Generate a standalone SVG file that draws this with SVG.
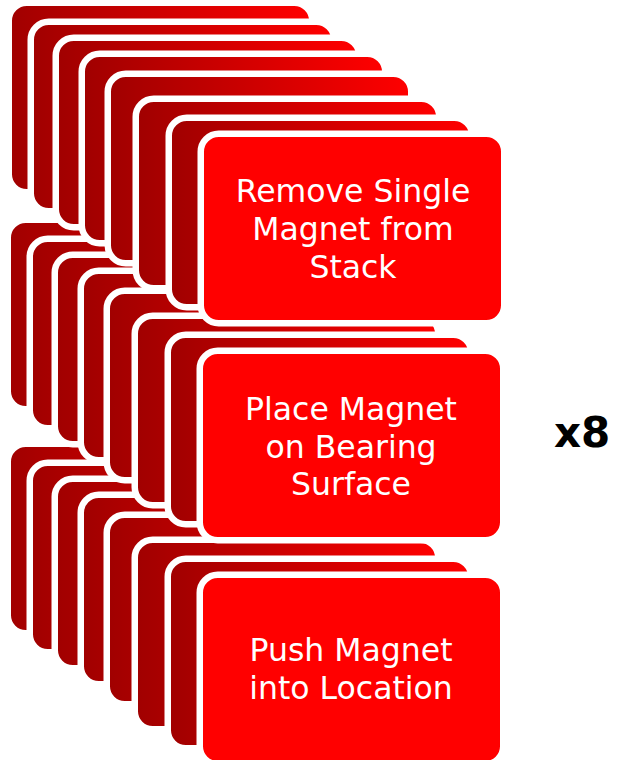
<svg xmlns="http://www.w3.org/2000/svg" xmlns:xlink="http://www.w3.org/1999/xlink" width="620" height="760" viewBox="0 0 620 760">
  <style>
    .back { fill: url(#grad); stroke: #ffffff; stroke-width: 6.5; }
    .front { fill: #ff0000; stroke: #ffffff; stroke-width: 6.5; }
    .lbl { font-family: "DejaVu Sans", Verdana, sans-serif; font-size: 31.5px; fill: #ffffff; text-anchor: middle; }
    .mult { font-family: "DejaVu Sans", Verdana, sans-serif; font-size: 42px; font-weight: bold; fill: #000000; }
  </style>
  <defs>
    <linearGradient id="grad" x1="0" y1="0" x2="1" y2="0">
      <stop offset="0" stop-color="#a00000"/>
      <stop offset="1" stop-color="#ff0000"/>
    </linearGradient>
    <rect id="card" width="303.5" height="189.5" rx="18" ry="18"/>
    <g id="stack">
      <use xlink:href="#card" class="back" x="-195.25" y="-134.25"/>
      <use xlink:href="#card" class="back" x="-173.25" y="-115.25"/>
      <use xlink:href="#card" class="back" x="-148.25" y="-99.25"/>
      <use xlink:href="#card" class="back" x="-122.25" y="-83.25"/>
      <use xlink:href="#card" class="back" x="-96.25" y="-63.25"/>
      <use xlink:href="#card" class="back" x="-68.25" y="-38.25"/>
      <use xlink:href="#card" class="back" x="-35.25" y="-19.25"/>
      <use xlink:href="#card" class="front" x="-3.25" y="-3.25"/>
    </g>
  </defs>
  <rect width="620" height="760" fill="#ffffff"/>
  <g id="connectors"/>
  <g id="step3" transform="translate(203,578)">
    <use xlink:href="#stack"/>
    <text class="lbl" x="148" y="83">Push Magnet</text>
    <text class="lbl" x="148" y="121">into Location</text>
  </g>
  <g id="step2" transform="translate(203,354)">
    <use xlink:href="#stack"/>
    <text class="lbl" x="148" y="66">Place Magnet</text>
    <text class="lbl" x="148" y="103.5">on Bearing</text>
    <text class="lbl" x="148" y="141">Surface</text>
  </g>
  <g id="step1" transform="translate(204,137)">
    <use xlink:href="#stack"/>
    <text class="lbl" x="149" y="65">Remove Single</text>
    <text class="lbl" x="149" y="103">Magnet from</text>
    <text class="lbl" x="149" y="141">Stack</text>
  </g>
  <g id="repeat">
    <text class="mult" x="554" y="447">x8</text>
  </g>
</svg>
